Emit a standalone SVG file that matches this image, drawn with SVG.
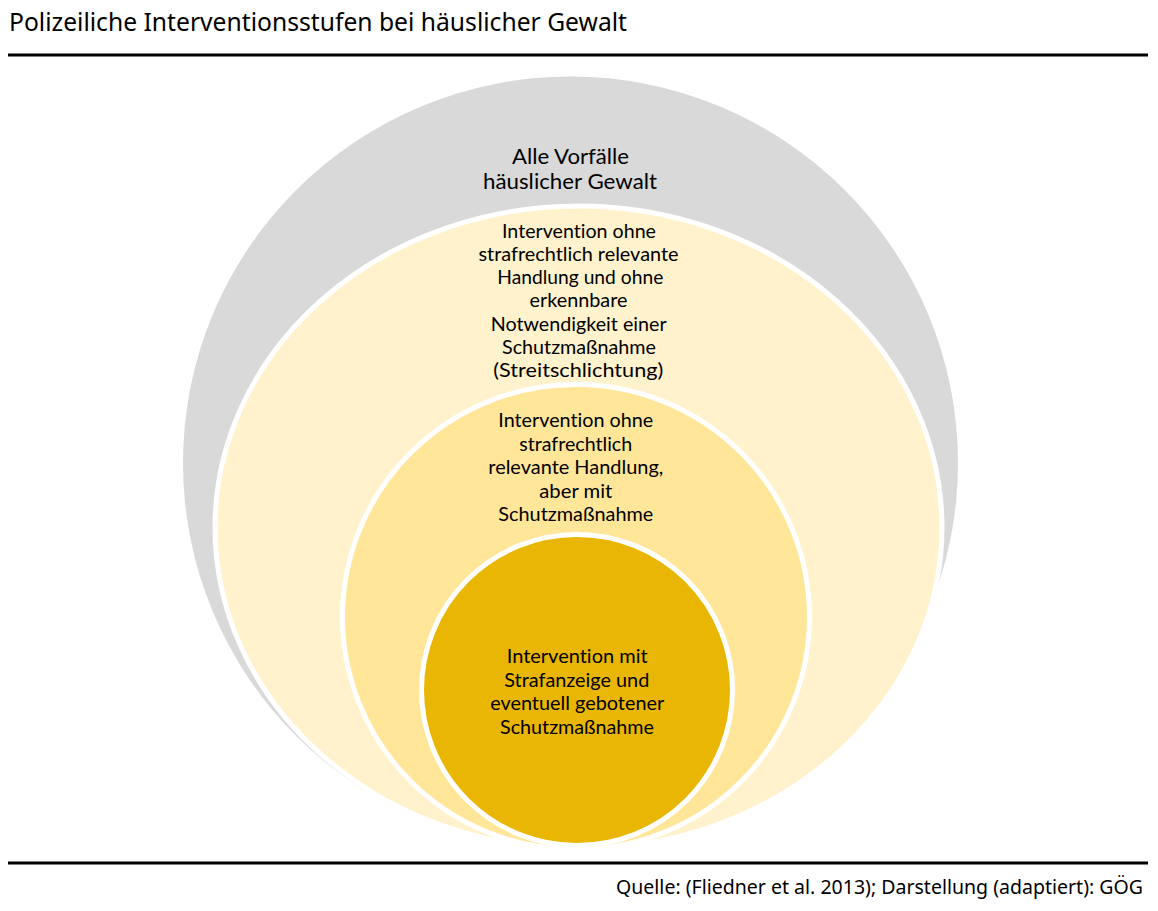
<svg xmlns="http://www.w3.org/2000/svg" width="1158" height="911" viewBox="0 0 1158 911">
<style>
.t{font-family:Lato,"Open Sans",sans-serif;fill:#000;text-anchor:middle;font-variant-ligatures:none}
.s{font-size:19px}
.b{font-size:21.5px}
.ring{stroke:#fff;stroke-width:5}
.rule{stroke:#000;stroke-width:3}
.h{font-family:"Noto Sans","Open Sans",sans-serif;fill:#000}
</style>
<rect width="1158" height="911" fill="#fff"/>
<text class="h" x="9" y="31" font-size="24.5" textLength="618" lengthAdjust="spacingAndGlyphs">Polizeiliche Interventionsstufen bei häuslicher Gewalt</text>
<line class="rule" x1="8" y1="55" x2="1148" y2="55"/>
<line class="rule" x1="8" y1="863" x2="1148" y2="863"/>
<text class="h" x="616" y="894" font-size="19" textLength="527" lengthAdjust="spacingAndGlyphs">Quelle: (Fliedner et al. 2013); Darstellung (adaptiert): GÖG</text>
<g id="connectors"/>
<g id="n1">
<ellipse cx="570.5" cy="463" rx="387.5" ry="386.5" fill="#D9D9D9"/>
<text class="t b" x="570.5" y="164" textLength="117" lengthAdjust="spacingAndGlyphs">Alle Vorfälle</text>
<text class="t b" x="570" y="189" textLength="174" lengthAdjust="spacingAndGlyphs">häuslicher Gewalt</text>
</g>
<g id="n2">
<ellipse class="ring" cx="578.5" cy="527.5" rx="363.5" ry="321.5" fill="#FFF2CC"/>
<text class="t s" x="579" y="237.5" textLength="154" lengthAdjust="spacingAndGlyphs">Intervention ohne</text>
<text class="t s" x="578.5" y="260.8" textLength="200" lengthAdjust="spacingAndGlyphs">strafrechtlich relevante</text>
<text class="t s" x="580.3" y="284.1" textLength="166" lengthAdjust="spacingAndGlyphs">Handlung und ohne</text>
<text class="t s" x="578.5" y="307.4" textLength="98" lengthAdjust="spacingAndGlyphs">erkennbare</text>
<text class="t s" x="578.7" y="330.7" textLength="176" lengthAdjust="spacingAndGlyphs">Notwendigkeit einer</text>
<text class="t s" x="579" y="354" textLength="154" lengthAdjust="spacingAndGlyphs">Schutzmaßnahme</text>
<text class="t s" x="578.3" y="377.3" textLength="170" lengthAdjust="spacingAndGlyphs">(Streitschlichtung)</text>
</g>
<g id="n3">
<ellipse class="ring" cx="576" cy="617" rx="233.5" ry="232.5" fill="#FFE699"/>
<text class="t s" x="575.8" y="427" textLength="155" lengthAdjust="spacingAndGlyphs">Intervention ohne</text>
<text class="t s" x="575.7" y="450.5" textLength="113" lengthAdjust="spacingAndGlyphs">strafrechtlich</text>
<text class="t s" x="575.8" y="474" textLength="175" lengthAdjust="spacingAndGlyphs">relevante Handlung,</text>
<text class="t s" x="575.8" y="497.5" textLength="73" lengthAdjust="spacingAndGlyphs">aber mit</text>
<text class="t s" x="575.8" y="521" textLength="155" lengthAdjust="spacingAndGlyphs">Schutzmaßnahme</text>
</g>
<g id="n4">
<circle class="ring" cx="577" cy="690" r="155.5" fill="#EAB604"/>
<text class="t s" x="577.2" y="663" textLength="141" lengthAdjust="spacingAndGlyphs">Intervention mit</text>
<text class="t s" x="576.8" y="686.5" textLength="145" lengthAdjust="spacingAndGlyphs">Strafanzeige und</text>
<text class="t s" x="577.2" y="710" textLength="174" lengthAdjust="spacingAndGlyphs">eventuell gebotener</text>
<text class="t s" x="577" y="733.5" textLength="154" lengthAdjust="spacingAndGlyphs">Schutzmaßnahme</text>
</g>
</svg>
